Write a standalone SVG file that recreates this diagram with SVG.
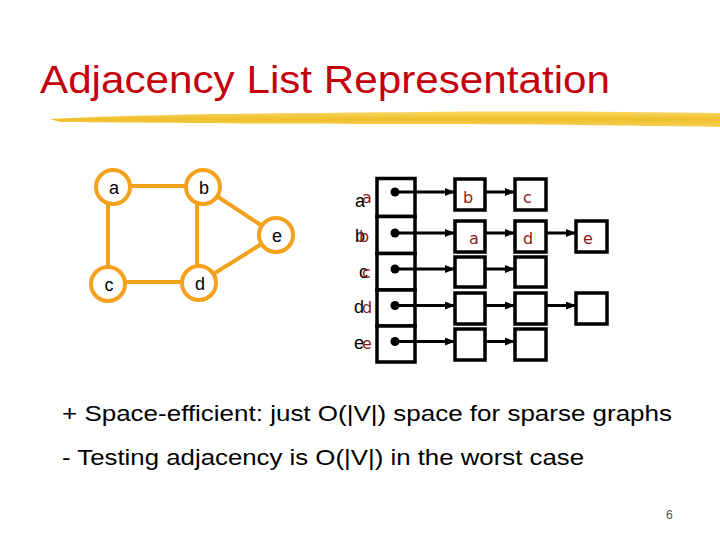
<svg xmlns="http://www.w3.org/2000/svg" width="720" height="540" viewBox="0 0 720 540">
<defs>
<style>
.title{font-family:"Liberation Sans","DejaVu Sans",sans-serif;font-size:38px;fill:#c4000c}
.bul{font-family:"Liberation Sans","DejaVu Sans",sans-serif;font-size:22px;fill:#000}
.gl{font-family:"Liberation Sans",Arial,sans-serif;font-size:18px;fill:#000;text-anchor:middle}
.bl{font-family:"Liberation Sans",Arial,sans-serif;font-size:18px;fill:#000}
.rl{font-family:"DejaVu Sans","Liberation Sans",sans-serif;font-size:16px;fill:#8b1a1a}
.edge{stroke:#f4a21e;stroke-width:4;fill:none}
.node{stroke:#f4a21e;stroke-width:4;fill:#fff}
.box{stroke:#000;stroke-width:3.5;fill:#fff}
.ptr{stroke:#000;stroke-width:3;fill:none;marker-end:url(#ah)}
.pg{font-family:"Liberation Sans",Arial,sans-serif;font-size:12px;fill:#555}
</style>
<marker id="ah" viewBox="0 0 10 8" refX="10" refY="4" markerWidth="10" markerHeight="8" markerUnits="userSpaceOnUse" orient="auto">
<path d="M0,0 L10,4 L0,8 z" fill="#000"/>
</marker>
<linearGradient id="brush" x1="0" y1="0" x2="0" y2="1">
<stop offset="0" stop-color="#f7d866"/>
<stop offset="0.5" stop-color="#f0bf2a"/>
<stop offset="1" stop-color="#f5d25a"/>
</linearGradient>
</defs>
<rect width="720" height="540" fill="#fff"/>

<g id="title">
<text class="title" x="40" y="93" textLength="570" lengthAdjust="spacingAndGlyphs">Adjacency List Representation</text>
<path d="M50,119 C150,114 300,113 420,112 C540,111 640,112 720,113 L720,127 C640,126 540,124 420,124 C300,124 150,123 60,122 Z" fill="url(#brush)"/>
</g>

<g id="graph-edges">
<line class="edge" x1="113" y1="186" x2="203" y2="186"/>
<line class="edge" x1="108" y1="187" x2="108" y2="284"/>
<line class="edge" x1="197" y1="187" x2="197" y2="283"/>
<line class="edge" x1="108" y1="282" x2="199" y2="282"/>
<line class="edge" x1="203" y1="187" x2="276" y2="235"/>
<line class="edge" x1="199" y1="283" x2="276" y2="235"/>
</g>
<g id="node-a"><circle class="node" cx="113" cy="187" r="17"/><text class="gl" x="114" y="194">a</text></g>
<g id="node-b"><circle class="node" cx="203" cy="187" r="17"/><text class="gl" x="204" y="194">b</text></g>
<g id="node-e"><circle class="node" cx="276" cy="235" r="17"/><text class="gl" x="277" y="242">e</text></g>
<g id="node-c"><circle class="node" cx="108" cy="284" r="17"/><text class="gl" x="109" y="291">c</text></g>
<g id="node-d"><circle class="node" cx="199" cy="283" r="17"/><text class="gl" x="200" y="290">d</text></g>

<g id="list-labels">
<text class="bl" x="355" y="207">a</text><text class="rl" x="362" y="203">a</text>
<text class="bl" x="355" y="242">b</text><text class="rl" x="359" y="242">b</text>
<text class="bl" x="359" y="278">c</text><text class="rl" x="362" y="278">c</text>
<text class="bl" x="354" y="313">d</text><text class="rl" x="362" y="313">d</text>
<text class="bl" x="354" y="349">e</text><text class="rl" x="362" y="349">e</text>
</g>

<g id="array">
<rect class="box" x="377" y="178.5" width="38" height="38"/>
<rect class="box" x="377" y="216.5" width="38" height="37"/>
<rect class="box" x="377" y="253.5" width="38" height="36.5"/>
<rect class="box" x="377" y="290" width="38" height="36"/>
<rect class="box" x="377" y="326" width="38" height="36"/>
</g>

<g id="list-nodes">
<rect class="box" x="455" y="179" width="30" height="31"/>
<rect class="box" x="515" y="179" width="31" height="31"/>
<rect class="box" x="455" y="221" width="30" height="31"/>
<rect class="box" x="515" y="221" width="31" height="31"/>
<rect class="box" x="576" y="221" width="31" height="31"/>
<rect class="box" x="455" y="257" width="30" height="30"/>
<rect class="box" x="515" y="257" width="31" height="30"/>
<rect class="box" x="455" y="293" width="30" height="31"/>
<rect class="box" x="515" y="293" width="31" height="31"/>
<rect class="box" x="576" y="293" width="31" height="31"/>
<rect class="box" x="455" y="329" width="30" height="31"/>
<rect class="box" x="515" y="329" width="31" height="31"/>
<text class="rl" x="463" y="203">b</text>
<text class="rl" x="523" y="203">c</text>
<text class="rl" x="469" y="244">a</text>
<text class="rl" x="523" y="244">d</text>
<text class="rl" x="583" y="244">e</text>
</g>

<g id="connectors">
<circle cx="395" cy="192" r="4.5" fill="#000"/>
<circle cx="395" cy="233" r="4.5" fill="#000"/>
<circle cx="395" cy="269" r="4.5" fill="#000"/>
<circle cx="395" cy="305.5" r="4.5" fill="#000"/>
<circle cx="395" cy="341.5" r="4.5" fill="#000"/>
<line class="ptr" x1="395" y1="192" x2="455" y2="192"/>
<line class="ptr" x1="485" y1="192" x2="515" y2="192"/>
<line class="ptr" x1="395" y1="233" x2="455" y2="233"/>
<line class="ptr" x1="485" y1="233" x2="515" y2="233"/>
<line class="ptr" x1="546" y1="233" x2="576" y2="233"/>
<line class="ptr" x1="395" y1="269" x2="455" y2="269"/>
<line class="ptr" x1="485" y1="269" x2="515" y2="269"/>
<line class="ptr" x1="395" y1="305.5" x2="455" y2="305.5"/>
<line class="ptr" x1="485" y1="305.5" x2="515" y2="305.5"/>
<line class="ptr" x1="546" y1="305.5" x2="576" y2="305.5"/>
<line class="ptr" x1="395" y1="341.5" x2="455" y2="341.5"/>
<line class="ptr" x1="485" y1="341.5" x2="515" y2="341.5"/>
</g>

<g id="bullets">
<text class="bul" x="62" y="421" textLength="610" lengthAdjust="spacingAndGlyphs">+ Space-efficient: just O(|V|) space for sparse graphs</text>
<text class="bul" x="62" y="465" textLength="522" lengthAdjust="spacingAndGlyphs">- Testing adjacency is O(|V|) in the worst case</text>
</g>
<text class="pg" x="666" y="519">6</text>
</svg>
